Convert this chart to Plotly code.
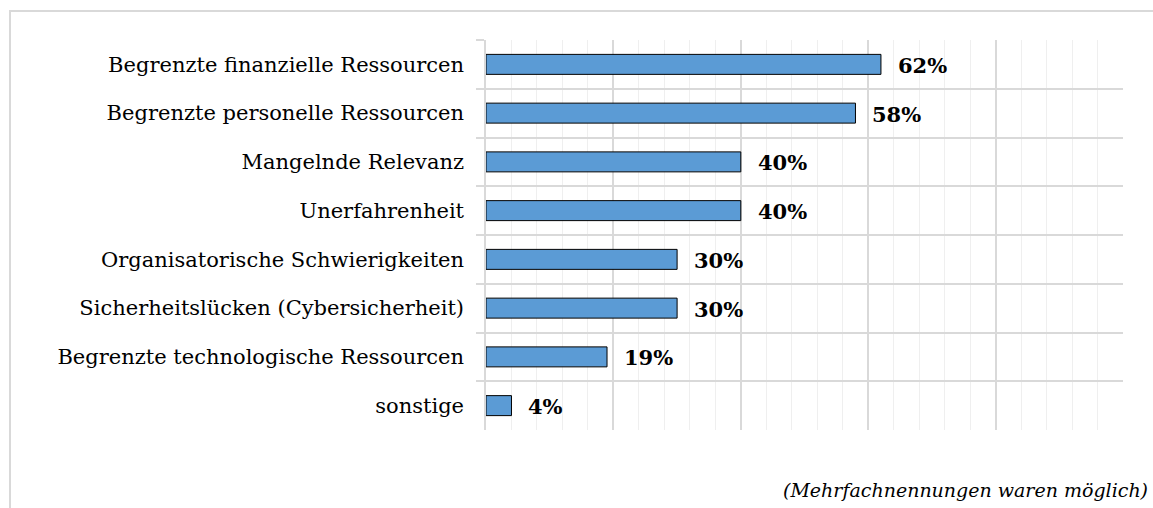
import plotly.graph_objects as go

categories = [
    "Begrenzte finanzielle Ressourcen",
    "Begrenzte personelle Ressourcen",
    "Mangelnde Relevanz",
    "Unerfahrenheit",
    "Organisatorische Schwierigkeiten",
    "Sicherheitslücken (Cybersicherheit)",
    "Begrenzte technologische Ressourcen",
    "sonstige",
]
values = [62, 58, 40, 40, 30, 30, 19, 4]
footnote = "(Mehrfachnennungen waren möglich)"

SERIF = "'DejaVu Serif', 'Liberation Serif', serif"

W, H = 1153, 508
L, R, T, B = 486, 30, 40, 78
pw, ph = W - L - R, H - T - B

def px_x(x):
    return (x - L) / pw

def px_y(y):
    return (H - B - y) / ph

fig = go.Figure()
fig.add_trace(go.Bar(
    x=values, y=categories, orientation="h",
    marker=dict(color="#5b9bd5", line=dict(color="#000000", width=1)),
    width=0.41, hoverinfo="skip",
))

for v, c in zip(values, categories):
    fig.add_annotation(
        x=v, y=c, text=f"<b>{v}%</b>", showarrow=False,
        xanchor="left", yanchor="middle", xshift=15, yshift=-1,
        font=dict(family=SERIF, size=21, color="#000000"),
    )

fig.add_annotation(
    x=px_x(1150), y=px_y(490), xref="paper", yref="paper",
    text=f"<i>{footnote}</i>", showarrow=False,
    xanchor="right", yanchor="middle",
    font=dict(family=SERIF, size=19, color="#000000"),
)

fig.add_shape(
    type="rect", xref="paper", yref="paper",
    x0=px_x(10), x1=px_x(1154), y0=px_y(520), y1=px_y(11),
    line=dict(color="#d9d9d9", width=2), fillcolor="rgba(0,0,0,0)", layer="below",
)

fig.update_layout(
    width=W, height=H,
    margin=dict(l=L, r=R, t=T, b=B, autoexpand=False),
    paper_bgcolor="white", plot_bgcolor="white",
    showlegend=False,
    font=dict(family=SERIF),
    xaxis=dict(
        range=[0, 100], dtick=20, showticklabels=False,
        showgrid=True, gridcolor="#d9d9d9", gridwidth=1.5,
        zeroline=False, showline=False, fixedrange=True,
        minor=dict(dtick=4, showgrid=True, gridcolor="#efefef", gridwidth=1),
    ),
    yaxis=dict(
        autorange="reversed", type="category", fixedrange=True,
        tickson="boundaries", ticks="outside", ticklen=8, tickcolor="#d9d9d9", tickwidth=1.5,
        showgrid=True, gridcolor="#d9d9d9", gridwidth=1.5,
        showline=True, linecolor="#d9d9d9", linewidth=1.5,
        tickfont=dict(family=SERIF, size=21, color="#000000"),
        ticklabelstandoff=16,
    ),
)

fig.write_html(
    "out.html",
    config={"displayModeBar": False},
    post_script="document.body.style.margin='0';document.body.style.overflow='hidden';",
)
